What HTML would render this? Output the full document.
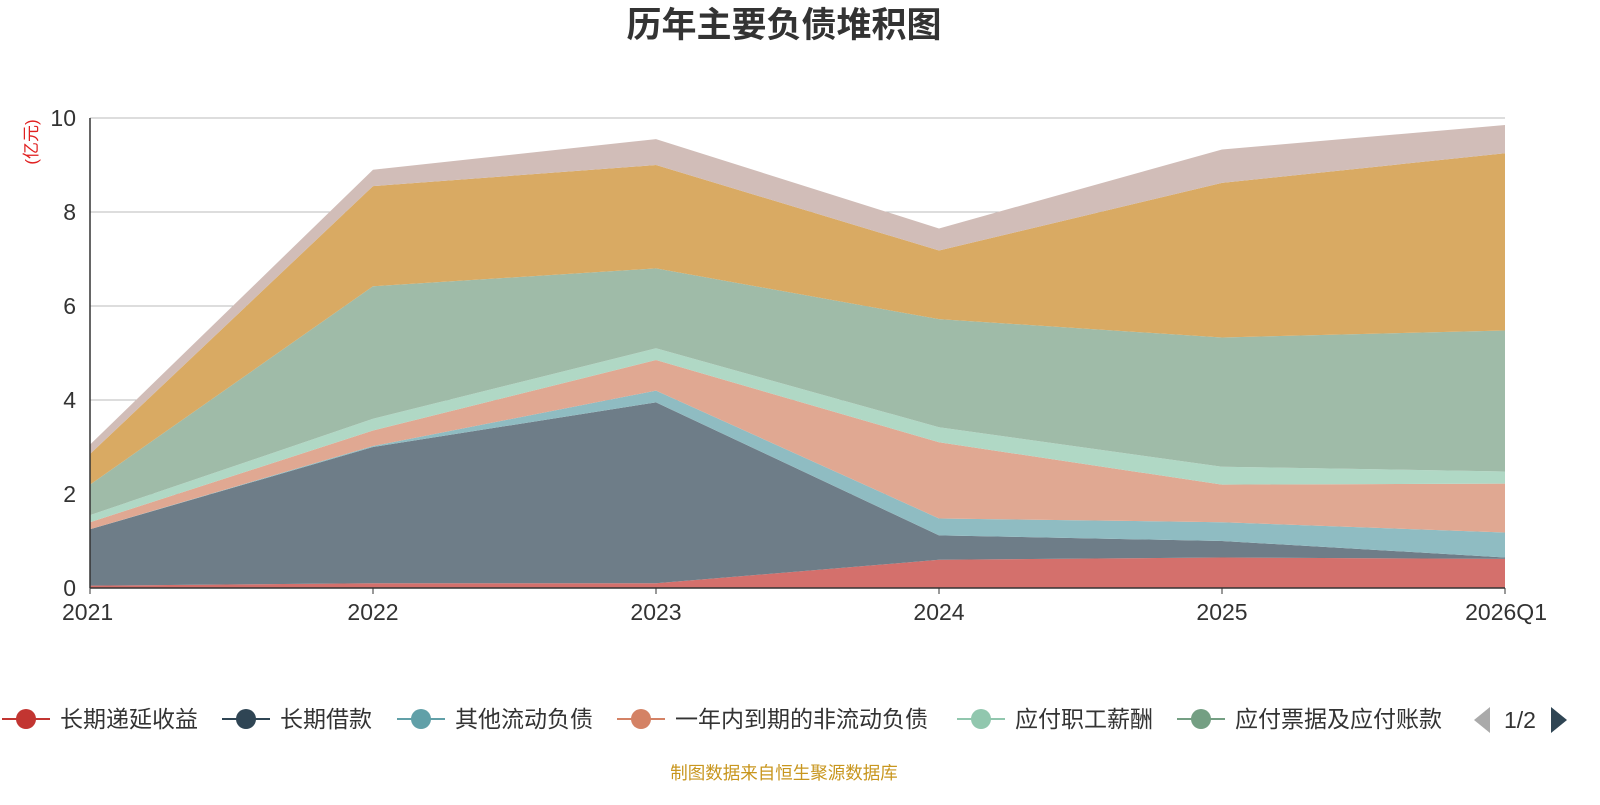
<!DOCTYPE html>
<html><head><meta charset="utf-8"><style>
body{margin:0;background:#fff;width:1600px;height:800px;overflow:hidden;font-family:"Liberation Sans","Noto Sans CJK SC",sans-serif}
</style></head><body>
<svg id="c" width="1600" height="800" xmlns="http://www.w3.org/2000/svg">
<text x="784" y="37" text-anchor="middle" font-size="35" font-weight="bold" fill="#333" font-family="Liberation Sans,Noto Sans CJK SC,sans-serif">历年主要负债堆积图</text>
<text transform="translate(37,142) rotate(-90)" text-anchor="middle" font-size="17" fill="#e02020" font-family="Liberation Sans,Noto Sans CJK SC,sans-serif">(亿元)</text>
<g id="grid"></g><g id="areas"></g><g id="axes"></g><g id="legend"></g>
<text x="784" y="779" text-anchor="middle" font-size="17.5" fill="#c8961e" font-family="Liberation Sans,Noto Sans CJK SC,sans-serif">制图数据来自恒生聚源数据库</text>
</svg>
<script>
const categories=["2021","2022","2023","2024","2025","2026Q1"];
const seriesNames=["长期递延收益","长期借款","其他流动负债","一年内到期的非流动负债","应付职工薪酬","应付票据及应付账款","应付账款","其他"];
const s1=[0.05,0.1,0.1,0.6,0.65,0.62];
const s2=[1.2,2.9,3.85,0.52,0.35,0.03];
const s3=[0,0.02,0.25,0.36,0.4,0.53];
const s4=[0.15,0.33,0.65,1.62,0.8,1.04];
const s5=[0.15,0.25,0.25,0.32,0.38,0.26];
const s6=[0.65,2.82,1.7,2.3,2.75,3.0];
const s7=[0.65,2.13,2.2,1.46,3.29,3.77];
const s8=[0.2,0.35,0.55,0.47,0.71,0.6];
const yTicks=[0,2,4,6,8,10];
const series=[s1,s2,s3,s4,s5,s6,s7,s8];
const fills=["#d4706c","#6e7d88","#8fbcc2","#e0a892","#b0d8c5","#9fbba8","#d9aa63","#d1bdb8"];
const legendColors=["#c23531","#2f4554","#61a0a8","#d48265","#91c7ae","#749f83"];
const NS="http://www.w3.org/2000/svg";
const X0=90,X1=1505,Y0=588,Y1=118;
const xs=i=>X0+(X1-X0)*i/(categories.length-1);
const ys=v=>Y0-(Y0-Y1)*v/10;
function mk(t,a,p){const e=document.createElementNS(NS,t);for(const k in a)e.setAttribute(k,a[k]);p.appendChild(e);return e;}
const grid=document.getElementById('grid'),axes=document.getElementById('axes'),areas=document.getElementById('areas'),leg=document.getElementById('legend');
yTicks.forEach(t=>{
 if(t>0){const l=mk('line',{x1:X0,x2:X1,y1:ys(t),y2:ys(t),stroke:'#bbb','stroke-width':1},grid);
 
 }
 const tx=mk('text',{x:X0-14,y:ys(t)+8,'text-anchor':'end','font-size':23,fill:'#333'},axes);tx.textContent=t;
 
 
});
let cum=categories.map(()=>0);
series.forEach((s,k)=>{
 const lo=cum.slice();cum=cum.map((c,i)=>c+s[i]);
 let d='M'+categories.map((_,i)=>xs(i)+','+ys(cum[i])).join('L');
 for(let i=categories.length-1;i>=0;i--)d+='L'+xs(i)+','+ys(lo[i]);
 const p=mk('path',{d:d+'Z',fill:fills[k]},areas);
 
 
});
const ax=mk('line',{x1:X0,x2:X1,y1:Y0,y2:Y0,stroke:'#333','stroke-width':1.5},axes);


const ay=mk('line',{x1:X0,x2:X0,y1:Y1,y2:Y0,stroke:'#333','stroke-width':1.5},axes);


categories.forEach((c,i)=>{
 const tk=mk('line',{x1:xs(i),x2:xs(i),y1:Y0,y2:Y0+6,stroke:'#333'},axes);
 
 
 const t=mk('text',{x:xs(i),y:Y0+32,'text-anchor':'middle','font-size':23,fill:'#333'},axes);t.textContent=c;
 if(i==0){t.setAttribute('text-anchor','start');t.setAttribute('x',62);}
 if(i==categories.length-1){t.setAttribute('text-anchor','end');t.setAttribute('x',1547);}
 
 
});
const lx=[0,220,395,615,955,1175];
lx.forEach((x,k)=>{
 const g=mk('g',{},leg);
 
 
 mk('line',{x1:x+2,x2:x+50,y1:719,y2:719,stroke:legendColors[k],'stroke-width':2},g);
 mk('circle',{cx:x+26,cy:719,r:10,fill:legendColors[k]},g);
 const t=mk('text',{x:x+60,y:727,'font-size':23,fill:'#333'},g);t.textContent=seriesNames[k];
});
const pl=mk('path',{d:'M1490,707L1490,733L1474,720Z',fill:'#aaa'},leg);


const pt=mk('text',{x:1520,y:728,'text-anchor':'middle','font-size':23,fill:'#333'},leg);pt.textContent='1/2';


const pn=mk('path',{d:'M1551,707L1551,733L1567,720Z',fill:'#2f4554'},leg);


</script>
</body></html>
